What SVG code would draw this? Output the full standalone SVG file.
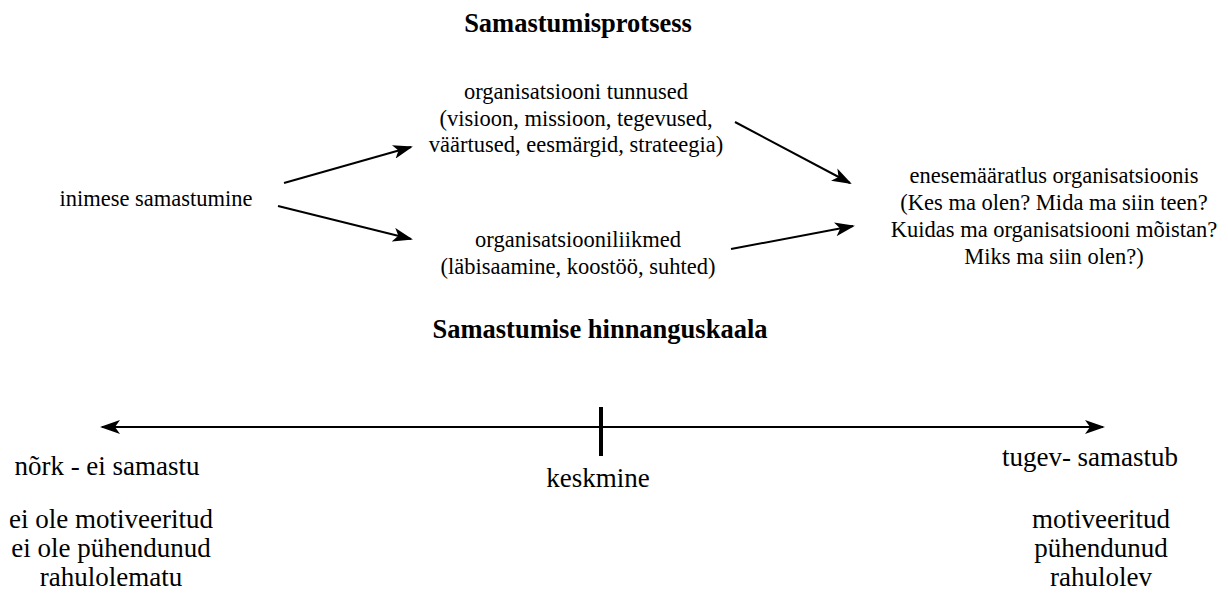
<svg xmlns="http://www.w3.org/2000/svg" width="1228" height="596" viewBox="0 0 1228 596">
  <style>
    text { fill: #000; text-anchor: middle; font-family: "Liberation Serif", serif !important; }
    .hdr { font-size: 26.5px; font-weight: bold; }
    .lbl { font-size: 22.5px; }
    .lbl-lg { font-size: 27px; }
    .conn { stroke: #000; stroke-width: 2; fill: none; }
  </style>
  <defs>
    <marker id="arrow" viewBox="0 0 20 14" refX="18" refY="7" markerWidth="20" markerHeight="14" markerUnits="userSpaceOnUse" orient="auto-start-reverse">
      <path d="M0,0 L20,7 L0,14 L5,7 Z" fill="#000"/>
    </marker>
  </defs>
  <rect width="1228" height="596" fill="#fff"/>

  <text class="hdr" x="578" y="32">Samastumisprotsess</text>

  <!-- process: person, two aspects, self-definition -->
  <g id="inimene">
    <text class="lbl" style="font-family:'Liberation Serif',serif !important" x="156" y="206">inimese samastumine</text>
  </g>
  <g id="tunnused">
    <text class="lbl" style="font-family:'Liberation Serif',serif !important" x="576" y="99">organisatsiooni tunnused</text>
    <text class="lbl" style="font-family:'Liberation Serif',serif !important" x="576" y="126">(visioon, missioon, tegevused,</text>
    <text class="lbl" style="font-family:'Liberation Serif',serif !important" x="576" y="152">väärtused, eesmärgid, strateegia)</text>
  </g>
  <g id="liikmed">
    <text class="lbl" style="font-family:'Liberation Serif',serif !important" x="578" y="247">organisatsiooniliikmed</text>
    <text class="lbl" style="font-family:'Liberation Serif',serif !important" x="578" y="274">(läbisaamine, koostöö, suhted)</text>
  </g>
  <g id="enesemaaratlus">
    <text class="lbl" style="font-family:'Liberation Serif',serif !important" x="1054" y="183">enesemääratlus organisatsioonis</text>
    <text class="lbl" style="font-family:'Liberation Serif',serif !important" x="1054" y="210">(Kes ma olen? Mida ma siin teen?</text>
    <text class="lbl" style="font-family:'Liberation Serif',serif !important" x="1054" y="237">Kuidas ma organisatsiooni mõistan?</text>
    <text class="lbl" style="font-family:'Liberation Serif',serif !important" x="1054" y="264">Miks ma siin olen?)</text>
  </g>

  <g id="connectors">
    <line class="conn" x1="284" y1="183" x2="411" y2="147" marker-end="url(#arrow)"/>
    <line class="conn" x1="278" y1="206" x2="411" y2="239" marker-end="url(#arrow)"/>
    <line class="conn" x1="735" y1="122" x2="850" y2="183" marker-end="url(#arrow)"/>
    <line class="conn" x1="731" y1="249" x2="853" y2="226" marker-end="url(#arrow)"/>
  </g>

  <text class="hdr" x="600" y="338">Samastumise hinnanguskaala</text>

  <!-- rating scale: double-headed axis with a centre tick -->
  <g id="scale">
    <line class="conn" x1="102" y1="427" x2="1103" y2="427" marker-start="url(#arrow)" marker-end="url(#arrow)"/>
    <line x1="601" y1="407" x2="601" y2="456" stroke="#000" stroke-width="4"/>
  </g>

  <g id="nork">
    <text class="lbl-lg" style="font-family:'Liberation Serif',serif !important" x="107" y="475">nõrk - ei samastu</text>
    <text class="lbl-lg" style="font-family:'Liberation Serif',serif !important" x="111" y="528">ei ole motiveeritud</text>
    <text class="lbl-lg" style="font-family:'Liberation Serif',serif !important" x="111" y="557">ei ole pühendunud</text>
    <text class="lbl-lg" style="font-family:'Liberation Serif',serif !important" x="111" y="586">rahulolematu</text>
  </g>
  <g id="keskmine">
    <text class="lbl-lg" style="font-family:'Liberation Serif',serif !important" x="598" y="487">keskmine</text>
  </g>
  <g id="tugev">
    <text class="lbl-lg" style="font-family:'Liberation Serif',serif !important" x="1090" y="466">tugev- samastub</text>
    <text class="lbl-lg" style="font-family:'Liberation Serif',serif !important" x="1101" y="528">motiveeritud</text>
    <text class="lbl-lg" style="font-family:'Liberation Serif',serif !important" x="1101" y="557">pühendunud</text>
    <text class="lbl-lg" style="font-family:'Liberation Serif',serif !important" x="1101" y="586">rahulolev</text>
  </g>
</svg>
